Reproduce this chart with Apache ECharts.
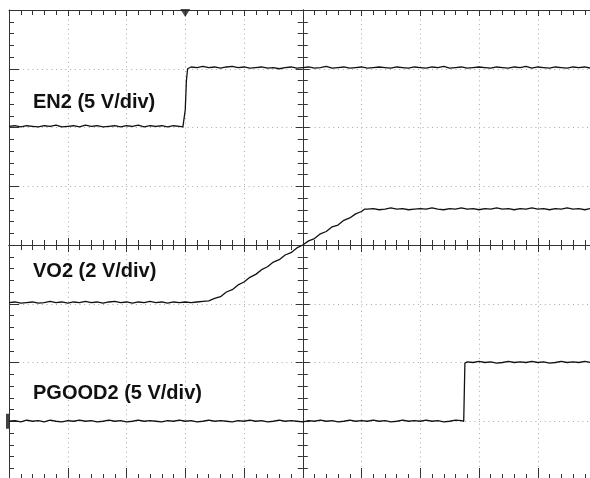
<!DOCTYPE html>
<html>
<head>
<meta charset="utf-8">
<script src="https://cdn.jsdelivr.net/npm/echarts@6/dist/echarts.min.js"></script>
<style>
html,body{margin:0;padding:0;background:#fff;}
#chart{width:590px;height:478px;}
</style>
</head>
<body>
<div id="chart"></div>
<script>
// time axis in divisions (-5 .. 5), vertical axis in divisions (-4 .. 4)
const xRange = [-5, 5];
const yRange = [-4, 4];

const en2 = [
[-5.0,2.02],[-4.9,2.03],[-4.8,2.01],[-4.7,2.03],[-4.6,2.02],[-4.5,2.01],[-4.4,2.03],[-4.3,2.02],[-4.2,2.04],[-4.1,2.01],
[-4.0,2.02],[-3.9,2.03],[-3.8,2.01],[-3.7,2.04],[-3.6,2.02],[-3.5,2.03],[-3.4,2.01],[-3.3,2.02],[-3.2,2.03],[-3.1,2.01],
[-3.0,2.03],[-2.9,2.02],[-2.8,2.04],[-2.7,2.01],[-2.6,2.03],[-2.5,2.02],[-2.4,2.03],[-2.3,2.01],[-2.2,2.03],[-2.1,2.02],
[-2.04,2.01],[-2.02,2.03],[-2.0,2.3],[-1.98,2.8],[-1.96,3.0],
[-1.9,3.03],[-1.8,3.02],[-1.7,3.04],[-1.6,3.02],[-1.5,3.03],[-1.4,3.01],[-1.3,3.03],[-1.2,3.04],[-1.1,3.02],[-1.0,3.03],
[-0.9,3.01],[-0.8,3.02],[-0.7,3.03],[-0.6,3.01],[-0.5,3.02],[-0.4,3.00],[-0.3,3.02],[-0.2,3.03],[-0.1,3.01],[0.0,3.02],
[0.1,3.03],[0.2,3.01],[0.3,3.02],[0.4,3.04],[0.5,3.01],[0.6,3.02],[0.7,3.03],[0.8,3.01],[0.9,3.02],[1.0,3.03],
[1.1,3.01],[1.2,3.02],[1.3,3.03],[1.4,3.02],[1.5,3.01],[1.6,3.03],[1.7,3.02],[1.8,3.01],[1.9,3.03],[2.0,3.02],
[2.1,3.01],[2.2,3.03],[2.3,3.02],[2.4,3.04],[2.5,3.01],[2.6,3.02],[2.7,3.03],[2.8,3.01],[2.9,3.02],[3.0,3.03],
[3.1,3.02],[3.2,3.01],[3.3,3.03],[3.4,3.02],[3.5,3.01],[3.6,3.03],[3.7,3.02],[3.8,3.04],[3.9,3.01],[4.0,3.03],
[4.1,3.02],[4.2,3.01],[4.3,3.03],[4.4,3.02],[4.5,3.01],[4.6,3.03],[4.7,3.02],[4.8,3.03],[4.9,3.01],[5.0,3.02]
];

const vo2 = [
[-5.0,-0.98],[-4.9,-0.97],[-4.8,-0.99],[-4.7,-0.98],[-4.6,-0.97],[-4.5,-0.99],[-4.4,-0.98],[-4.3,-0.96],[-4.2,-0.98],[-4.1,-0.97],
[-4.0,-0.99],[-3.9,-0.97],[-3.8,-0.98],[-3.7,-0.96],[-3.6,-0.98],[-3.5,-0.97],[-3.4,-0.99],[-3.3,-0.97],[-3.2,-0.96],[-3.1,-0.98],
[-3.0,-0.97],[-2.9,-0.99],[-2.8,-0.97],[-2.7,-0.98],[-2.6,-0.96],[-2.5,-0.98],[-2.4,-0.97],[-2.3,-0.99],[-2.2,-0.97],[-2.1,-0.98],
[-2.0,-0.97],[-1.9,-0.98],[-1.8,-0.97],[-1.7,-0.96],
[-1.6,-0.95],[-1.5,-0.91],[-1.4,-0.88],[-1.3,-0.80],[-1.2,-0.76],[-1.1,-0.68],[-1.0,-0.63],[-0.9,-0.55],[-0.8,-0.50],[-0.7,-0.42],
[-0.6,-0.37],[-0.5,-0.29],[-0.4,-0.25],[-0.3,-0.17],[-0.2,-0.13],[-0.1,-0.05],[0.0,0.0],[0.1,0.07],[0.2,0.11],[0.3,0.19],
[0.4,0.23],[0.5,0.31],[0.6,0.34],[0.7,0.42],[0.8,0.46],[0.9,0.53],[1.0,0.57],[1.05,0.61],
[1.1,0.61],[1.2,0.62],[1.3,0.60],[1.4,0.61],[1.5,0.63],[1.6,0.61],[1.7,0.62],[1.8,0.60],[1.9,0.61],[2.0,0.62],
[2.1,0.61],[2.2,0.63],[2.3,0.61],[2.4,0.60],[2.5,0.62],[2.6,0.61],[2.7,0.63],[2.8,0.61],[2.9,0.62],[3.0,0.60],
[3.1,0.62],[3.2,0.61],[3.3,0.63],[3.4,0.61],[3.5,0.62],[3.6,0.60],[3.7,0.62],[3.8,0.61],[3.9,0.63],[4.0,0.61],
[4.1,0.62],[4.2,0.60],[4.3,0.62],[4.4,0.61],[4.5,0.63],[4.6,0.61],[4.7,0.62],[4.8,0.60],[4.9,0.62],[5.0,0.61]
];

const pgood2 = [
[-5.0,-3.00],[-4.9,-2.99],[-4.8,-3.01],[-4.7,-2.98],[-4.6,-3.00],[-4.5,-2.99],[-4.4,-3.01],[-4.3,-2.98],[-4.2,-3.00],[-4.1,-3.01],
[-4.0,-2.99],[-3.9,-3.00],[-3.8,-2.98],[-3.7,-3.00],[-3.6,-2.99],[-3.5,-3.01],[-3.4,-3.00],[-3.3,-2.98],[-3.2,-3.00],[-3.1,-2.99],
[-3.0,-3.01],[-2.9,-3.00],[-2.8,-2.98],[-2.7,-3.00],[-2.6,-2.99],[-2.5,-3.00],[-2.4,-3.01],[-2.3,-2.99],[-2.2,-3.00],[-2.1,-2.98],
[-2.0,-3.00],[-1.9,-2.99],[-1.8,-3.01],[-1.7,-3.00],[-1.6,-2.98],[-1.5,-3.00],[-1.4,-2.99],[-1.3,-3.00],[-1.2,-3.01],[-1.1,-2.99],
[-1.0,-3.00],[-0.9,-2.98],[-0.8,-3.00],[-0.7,-2.99],[-0.6,-3.01],[-0.5,-3.00],[-0.4,-2.98],[-0.3,-3.00],[-0.2,-2.99],[-0.1,-3.00],
[0.0,-3.01],[0.1,-2.99],[0.2,-3.00],[0.3,-2.98],[0.4,-3.00],[0.5,-2.99],[0.6,-3.01],[0.7,-3.00],[0.8,-2.98],[0.9,-3.00],
[1.0,-2.99],[1.1,-3.00],[1.2,-2.98],[1.3,-3.00],[1.4,-2.99],[1.5,-3.01],[1.6,-3.00],[1.7,-2.98],[1.8,-3.00],[1.9,-2.99],
[2.0,-3.00],[2.1,-2.98],[2.2,-3.00],[2.3,-2.99],[2.4,-3.01],[2.5,-3.00],[2.6,-2.98],[2.7,-2.99],[2.74,-3.00],
[2.76,-2.01],
[2.8,-1.99],[2.9,-2.00],[3.0,-1.98],[3.1,-2.00],[3.2,-1.99],[3.3,-2.01],[3.4,-2.00],[3.5,-1.98],[3.6,-2.00],[3.7,-1.99],
[3.8,-2.00],[3.9,-1.98],[4.0,-2.00],[4.1,-1.99],[4.2,-2.01],[4.3,-2.00],[4.4,-1.98],[4.5,-2.00],[4.6,-1.99],[4.7,-2.00],
[4.8,-1.98],[4.9,-2.00],[5.0,-1.99]
];

const triggerPoint = [[-2, 4]];
const pgoodGround = [[-5, -3]];

const labels = [
  {text: 'EN2 (5 V/div)', y: 102.5},
  {text: 'VO2 (2 V/div)', y: 271.5},
  {text: 'PGOOD2 (5 V/div)', y: 393}
];

const chart = echarts.init(document.getElementById('chart'), null, {renderer: 'canvas'});

const borderColor = '#333';
const dotted = {color: '#a8a8a8', width: 1, type: [1, 3.7]};

function xAx(opts) {
  return Object.assign({
    type: 'value', min: xRange[0], max: xRange[1], interval: 1,
    axisLabel: {show: false},
    splitLine: {show: false},
    axisLine: {show: true, onZero: false, lineStyle: {color: borderColor, width: 1}},
    axisTick: {show: true, inside: true, length: 6, lineStyle: {color: borderColor}},
    minorTick: {show: true, splitNumber: 5, length: 5, lineStyle: {color: borderColor}}
  }, opts);
}
function yAx(opts) {
  return Object.assign({
    type: 'value', min: yRange[0], max: yRange[1], interval: 1,
    axisLabel: {show: false},
    splitLine: {show: false},
    axisLine: {show: true, onZero: false, lineStyle: {color: borderColor, width: 1}},
    axisTick: {show: true, inside: true, length: 6, lineStyle: {color: borderColor}},
    minorTick: {show: true, splitNumber: 5, length: 5, lineStyle: {color: borderColor}}
  }, opts);
}

const centerLine = {show: true, onZero: true, onZeroAxisIndex: 0, lineStyle: {color: borderColor, width: 1}};

const option = {
  animation: false,
  backgroundColor: '#fff',
  grid: {left: 9, top: 10, width: 587.5, height: 470, containLabel: false, outerBoundsMode: 'none', show: false},
  xAxis: [
    xAx({position: 'bottom', splitLine: {show: true, lineStyle: dotted},
         axisTick: {show: true, inside: true, length: 12, lineStyle: {color: borderColor}},
         minorTick: {show: true, splitNumber: 5, length: 6, lineStyle: {color: borderColor}}}),
    xAx({position: 'top'}),
    xAx({position: 'bottom', axisLine: centerLine,
         axisTick: {show: true, inside: false, length: 7, lineStyle: {color: borderColor}},
         minorTick: {show: true, splitNumber: 5, length: 5, lineStyle: {color: borderColor}}}),
    xAx({position: 'bottom', axisLine: centerLine,
         axisTick: {show: true, inside: true, length: 7, lineStyle: {color: borderColor}},
         minorTick: {show: true, splitNumber: 5, length: 5, lineStyle: {color: borderColor}}})
  ],
  yAxis: [
    yAx({position: 'left', splitLine: {show: true, lineStyle: dotted},
         axisTick: {show: true, inside: true, length: 10, lineStyle: {color: borderColor}},
         minorTick: {show: true, splitNumber: 5, length: 5, lineStyle: {color: borderColor}}}),
    yAx({position: 'right'}),
    yAx({position: 'left', axisLine: centerLine,
         axisTick: {show: true, inside: false, length: 7, lineStyle: {color: borderColor}},
         minorTick: {show: true, splitNumber: 5, length: 5, lineStyle: {color: borderColor}}}),
    yAx({position: 'left', axisLine: centerLine,
         axisTick: {show: true, inside: true, length: 7, lineStyle: {color: borderColor}},
         minorTick: {show: true, splitNumber: 5, length: 5, lineStyle: {color: borderColor}}})
  ],
  series: [
    {name: 'EN2', type: 'line', data: en2, showSymbol: false, symbol: 'none',
     lineStyle: {color: '#111', width: 1.3}, z: 5},
    {name: 'VO2', type: 'line', data: vo2, showSymbol: false, symbol: 'none',
     lineStyle: {color: '#111', width: 1.3}, z: 5},
    {name: 'PGOOD2', type: 'line', data: pgood2, showSymbol: false, symbol: 'none',
     lineStyle: {color: '#111', width: 1.3}, z: 5},
    {type: 'scatter', data: triggerPoint, symbol: 'triangle', symbolRotate: 180,
     symbolSize: [10, 8], symbolOffset: [0, 3], itemStyle: {color: '#222'}, clip: false, silent: true, z: 6},
    {type: 'scatter', data: pgoodGround, symbol: 'rect',
     symbolSize: [3, 15], symbolOffset: [-1.5, 0], itemStyle: {color: '#111'}, clip: false, silent: true, z: 6}
  ],
  graphic: labels.map(l => ({
    type: 'text', silent: true, z: 10, x: 33, y: l.y,
    style: {text: l.text, fill: '#111', font: 'bold 20px "Liberation Sans", Arial, sans-serif',
            verticalAlign: 'middle', textVerticalAlign: 'middle'}
  }))
};

chart.setOption(option);
</script>
</body>
</html>
